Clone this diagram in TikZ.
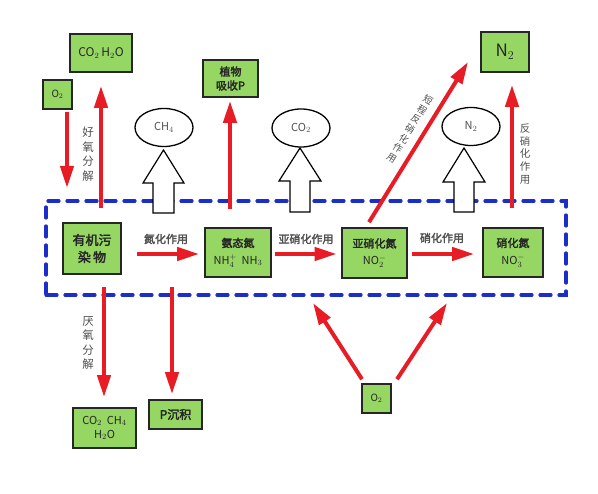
\documentclass[tikz,border=0pt]{standalone}
\usepackage{fontspec}
\setmainfont{Noto Sans CJK SC}[AutoFakeBold=2.5]
\usetikzlibrary{arrows.meta,shapes.geometric}
\definecolor{boxgreen}{RGB}{150,214,98}
\definecolor{arrred}{RGB}{232,28,36}
\definecolor{dashblue}{RGB}{28,46,200}
\definecolor{labgray}{RGB}{80,80,80}
\begin{document}
\begin{tikzpicture}[x=1pt,y=-1pt,
  gbox/.style={draw=black!85,line width=1.6pt,fill=boxgreen,inner sep=0pt,align=center,text=black!85},
  redarr/.style={draw=arrred,line width=4pt,-{Triangle[length=22pt,width=13pt]}},
  ell/.style={draw=black,line width=1.3pt,ellipse,fill=white,minimum width=58pt,minimum height=38pt,inner sep=0pt,text=labgray,font=\fontsize{11}{12}\selectfont},
  blockarr/.style={draw=black,line width=1.2pt,fill=white,line join=miter},
  lab/.style={text=labgray,font=\bfseries\fontsize{11}{12}\selectfont,inner sep=0pt},
  vlab/.style={text=labgray,font=\fontsize{11.5}{14.5}\selectfont,align=center,inner sep=0pt}]
\useasboundingbox (0,0) rectangle (598,494);
% dashed frame
\node[draw=dashblue,line width=3.2pt,dash pattern=on 11pt off 8pt,line cap=round,minimum width=520pt,minimum height=94pt,inner sep=0pt] (frame) at (306,248) {};
% block arrows
\draw[blockarr] (153,213) -- (153,183) -- (143,183) -- (163.5,150) -- (184,183) -- (174,183) -- (174,213) -- cycle;
\draw[blockarr] (290,212) -- (290,181) -- (279,181) -- (300,148) -- (321,181) -- (310,181) -- (310,212) -- cycle;
\draw[blockarr] (454,212) -- (454,182) -- (443,182) -- (464,148) -- (485,182) -- (474,182) -- (474,212) -- cycle;
% ellipses
\node[ell] (ch4) at (164,127.5) {CH$_4$};
\node[ell] (co2e) at (301,128) {CO$_2$};
\node[ell] (n2e) at (471,126.5) {N$_2$};
% boxes
\node[gbox,minimum width=62pt,minimum height=38pt,font=\fontsize{12}{14}\selectfont] (co2h2o) at (101,53) {CO$_2$\,H$_2$O};
\node[gbox,minimum width=29pt,minimum height=29pt,font=\fontsize{10}{12}\selectfont] (o2top) at (57.5,94.5) {O$_2$};
\node[gbox,minimum width=55pt,minimum height=37pt,font=\bfseries\fontsize{11}{14}\selectfont] (plant) at (230.5,78.5) {植物\\吸收P};
\node[gbox,minimum width=58pt,minimum height=51pt,font=\bfseries\fontsize{13}{17}\selectfont] (org) at (92,248.5) {有机污\\染\,物};
\node[gbox,minimum width=66pt,minimum height=49pt,font=\fontsize{11}{17}\selectfont] (nh) at (238,252.5) {\textbf{氨态氮}\\NH$_4^+$\ \ NH$_3$};
\node[gbox,minimum width=65pt,minimum height=50pt,font=\fontsize{11}{17}\selectfont] (no2) at (374.5,253) {\textbf{亚硝化氮}\\NO$_2^-$};
\node[gbox,minimum width=60pt,minimum height=49pt,font=\fontsize{11}{17}\selectfont] (no3) at (513,252.5) {\textbf{硝化氮}\\NO$_3^-$};
\node[gbox,minimum width=48pt,minimum height=40pt,font=\fontsize{17}{20}\selectfont] (n2) at (505,52) {N$_2$};
\node[gbox,minimum width=63pt,minimum height=40pt,font=\fontsize{11}{14}\selectfont] (bot1) at (104.5,428) {CO$_2$\ \ CH$_4$\\H$_2$O};
\node[gbox,minimum width=53pt,minimum height=29pt,font=\bfseries\fontsize{12}{14}\selectfont] (psed) at (175.5,414.5) {P沉积};
\node[gbox,minimum width=29pt,minimum height=29pt,font=\fontsize{10}{12}\selectfont] (o2bot) at (376.5,398.5) {O$_2$};
% free-end coordinates
\coordinate (a1e) at (67,188);
\coordinate (a2s) at (101,208);
\coordinate (a3s) at (230,209);
\coordinate (a5s) at (512,208);
\coordinate (a6s) at (104,287);
\coordinate (a7s) at (172,287);
\coordinate (a8e) at (313,303);
\coordinate (a9e) at (447,303);
\coordinate (a4e) at (468,62);
% red arrows
\draw[redarr] (o2top.south -| a1e) ++(0,2) -- (a1e);
\draw[redarr] (a2s) -- ([yshift=-13pt]co2h2o.south);
\draw[redarr] (a3s) -- ([xshift=-0.5pt,yshift=-3pt]plant.south);
\draw[redarr] ([xshift=-5.5pt,yshift=5pt]no2.north) -- (a4e);
\draw[redarr] (a5s) -- ([xshift=7pt,yshift=-12pt]n2.south);
\draw[redarr] (a6s) -- ([xshift=-0.5pt,yshift=10pt]bot1.north);
\draw[redarr] (a7s) -- ([xshift=-3.5pt,yshift=5pt]psed.north);
\draw[redarr] ([xshift=-14.5pt,yshift=4pt]o2bot.north) -- (a8e);
\draw[redarr] ([xshift=20.5pt,yshift=4pt]o2bot.north) -- (a9e);
\draw[redarr] ([xshift=15pt,yshift=-5.5pt]org.east) -- ([xshift=-5pt,yshift=-1.5pt]nh.west);
\draw[redarr] ([xshift=3pt,yshift=-1.5pt]nh.east) -- ([xshift=-4.5pt,yshift=-1pt]no2.west);
\draw[redarr] ([xshift=4pt,yshift=-1pt]no2.east) -- ([xshift=-8pt,yshift=-1.5pt]no3.west);
% labels
\node[lab] (l1) at (166,239) {氮化作用};
\node[lab] (l2) at (306,239) {亚硝化作用};
\node[lab] (l3) at (442,238) {硝化作用};
\node[vlab] (l4) at (88,154) {好\\氧\\分\\解};
\node[vlab] (l5) at (88,343) {厌\\氧\\分\\解};
\node[vlab,font=\fontsize{10.5}{12.6}\selectfont] (l6) at (525,154) {反\\硝\\化\\作\\用};
\node[vlab,font=\fontsize{9.5}{11.4}\selectfont,rotate=-32] (l7) at (410,129) {短\\程\\反\\硝\\化\\作\\用};
\end{tikzpicture}
\end{document}
